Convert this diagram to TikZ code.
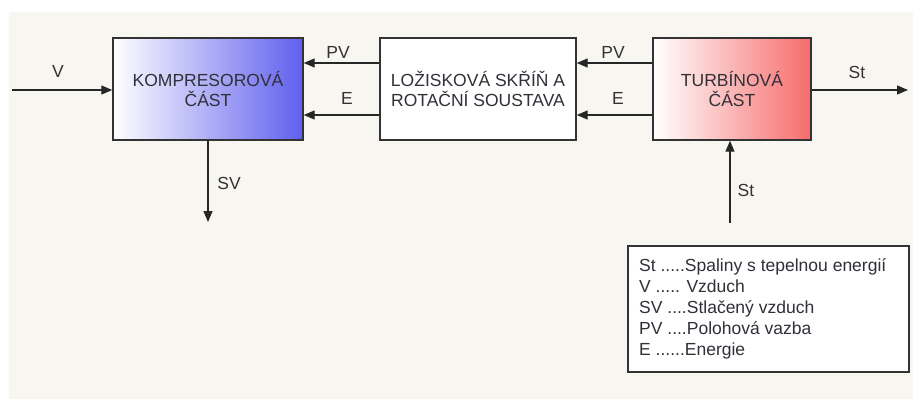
\documentclass[tikz,border=0pt]{standalone}
\usepackage{fontspec}
\setmainfont{Liberation Sans}
\usetikzlibrary{arrows.meta}

\definecolor{pozadi}{HTML}{F8F6F1}
\definecolor{kompmodra}{HTML}{5F5FEE}
\definecolor{turbcervena}{HTML}{F66C6C}
\definecolor{textseda}{HTML}{303038}

\tikzset{
  blok/.style={draw=black!80, line width=1.4pt, inner sep=0pt, align=center,
    text=textseda, font=\fontsize{17.5}{20}\selectfont},
  tok/.style={line width=1.3pt, black!85, -{Triangle[length=11pt,width=9pt]}},
  popis/.style={text=black!80, font=\fontsize{17.5}{20}\selectfont, inner sep=0pt}
}

\begin{document}
\begin{tikzpicture}[x=1pt,y=1pt]
			\useasboundingbox (0,0) rectangle (913,-399);
			\fill[pozadi] (9,-12) rectangle (913,-399);
			% bloky
			\node[blok, minimum width=190, minimum height=102, left color=white, right color=kompmodra] (komp) at (208,-89) {KOMPRESOROVÁ\\ČÁST};
			\node[blok, minimum width=196, minimum height=102, fill=white] (lozisko) at (478,-89) {LOŽISKOVÁ SKŘÍŇ A\\ROTAČNÍ SOUSTAVA};
			\node[blok, minimum width=158, minimum height=102, left color=white, right color=turbcervena] (turb) at (732,-89) {TURBÍNOVÁ\\ČÁST};
			% volne konce
			\coordinate (vstup) at (12,-90);
			\coordinate (vystup) at (908,-90);
			\coordinate (stin) at (730,-223);
			\coordinate (svout) at (208,-222);
			% toky
			\draw[tok] (vstup) -- (vstup -| komp.west);
			\draw[tok] ([yshift=26]lozisko.west) -- ([yshift=26]komp.east);
			\draw[tok] ([yshift=-26]lozisko.west) -- ([yshift=-26]komp.east);
			\draw[tok] ([yshift=26]turb.west) -- ([yshift=26]lozisko.east);
			\draw[tok] ([yshift=-26]turb.west) -- ([yshift=-26]lozisko.east);
			\draw[tok] (vystup -| turb.east) -- (vystup);
			\draw[tok] (stin) -- (stin |- turb.south);
			\draw[tok] (komp.south) -- (svout);
			% popisky
			\node[popis] (pv1) at (338,-52) {PV};
			\node[popis] (e1) at (347,-98) {E};
			\node[popis] (pv2) at (613,-52) {PV};
			\node[popis] (e2) at (618,-98) {E};
			\node[popis] (v) at (58,-71) {V};
			\node[popis] (st1) at (857,-72) {St};
			\node[popis] (st2) at (746,-190) {St};
			\node[popis] (sv) at (229,-183) {SV};
			% legenda
			\draw[black!80, line width=1.4pt, fill=white] (628,-246) rectangle (909,-372);
			\node[popis, anchor=north west, align=left, text=textseda, font=\fontsize{17.5}{21}\selectfont] (legenda) at (639,-258)
			  {St .....Spaliny s tepelnou energií\\V ..... Vzduch\\SV ....Stlačený vzduch\\PV ....Polohová vazba\\E ......Energie};
		\end{tikzpicture}
\end{document}
